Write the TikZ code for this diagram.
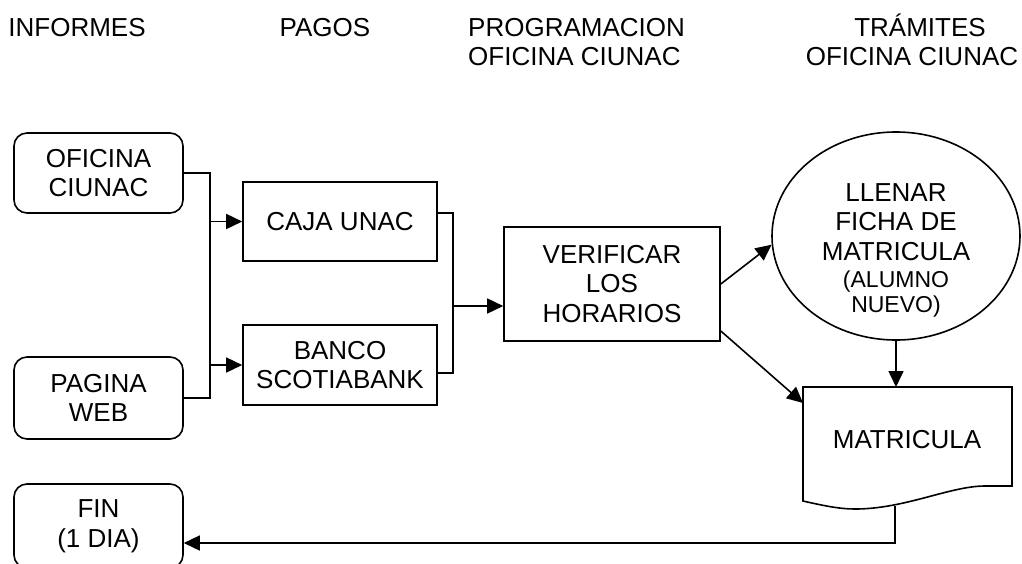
\documentclass[tikz,border=0pt]{standalone}
\usepackage{fontspec}
\setmainfont{Liberation Sans}
\usetikzlibrary{shapes.geometric,arrows.meta,calc}
\begin{document}
\begin{tikzpicture}[x=1pt,y=-1pt,
  every node/.style={font=\fontsize{26}{29.5}\selectfont},
  conn/.style={line width=1.6pt},
  arr/.style={line width=1.6pt,-{Triangle[length=16pt,width=15pt]}},
  rbox/.style={draw,line width=1.6pt,rounded corners=13pt,minimum width=169pt,inner sep=0pt,align=center},
  sbox/.style={draw,line width=1.6pt,inner sep=0pt,align=center},
  hdr/.style={inner sep=0pt,anchor=base}]
\fill[white] (0,0) rectangle (1022,563);
\useasboundingbox (0,0) rectangle (1022,563);
% headers
\node[hdr] (h1) at (77,36) {INFORMES};
\node[hdr] (h2) at (325,36) {PAGOS};
\node[hdr,anchor=base west] (h3a) at (468,36) {PROGRAMACION};
\node[hdr,anchor=base west] (h3b) at (468,65) {OFICINA CIUNAC};
\node[hdr] (h4a) at (920,36) {TRÁMITES};
\node[hdr] (h4b) at (912,65) {OFICINA CIUNAC};
% boxes
\node[rbox,minimum height=80pt] (ofi) at (98.5,173) {OFICINA\\CIUNAC};
\node[rbox,minimum height=82pt] (pag) at (98.5,398) {PAGINA\\WEB};
\node[rbox,minimum height=84pt] (fin) at (98.5,526) {FIN\\(1 DIA)};
\node[sbox,minimum width=194pt,minimum height=79pt] (caja) at (340,221.5) {CAJA UNAC};
\node[sbox,minimum width=194pt,minimum height=80pt] (banco) at (340,365) {BANCO\\SCOTIABANK};
\node[sbox,minimum width=216pt,minimum height=114pt] (verif) at (612,284) {VERIFICAR\\LOS\\HORARIOS};
\node[draw,ellipse,line width=1.6pt,minimum width=248pt,minimum height=208pt,inner sep=0pt] (ell) at (896,236) {};
\node[align=center,inner sep=0pt] (elltxt) at (896,250) {LLENAR\\FICHA DE\\MATRICULA\\[-2pt]{\fontsize{23}{24}\selectfont (ALUMNO}\\[-5pt]{\fontsize{23}{24}\selectfont NUEVO)}};
% document shape
\draw[conn] (803,387) -- (1012,387) -- (1012,486) -- (985,486)
  .. controls (950,486) and (905,509) .. (855,509)
  .. controls (840,509) and (825,506) .. (803,501) -- cycle;
\node[inner sep=0pt] (doc) at (907,440) {MATRICULA};
\coordinate (doctl) at (803,387);
\coordinate (docb) at (895,506);
\coordinate (fa) at (0,543);
% buses
\coordinate (lbus) at (210,0);
\coordinate (rbus) at (453,0);
\draw[conn] (ofi.east) -- (ofi.east -| lbus) -- (pag.east -| lbus) -- (pag.east);
\draw[arr] (caja.west -| lbus) -- (caja.west);
\draw[arr] (banco.west -| lbus) -- (banco.west);
\coordinate (cout) at ($(caja.east)+(0,-8.5)$);
\coordinate (bout) at ($(banco.east)+(0,8)$);
\coordinate (vin) at ($(verif.west)+(0,22)$);
\draw[conn] (cout) -- (cout -| rbus) -- (bout -| rbus) -- (bout);
\draw[arr] (vin -| rbus) -- (vin);
% right side
\draw[arr] (verif.east) -- (ell.184);
\draw[arr] ($(verif.east)+(0,47)$) -- ($(doctl)+(0,16)$);
\draw[arr] (ell.south) -- (ell.south |- doctl);
\draw[arr] (docb) |- (fin.east |- fa);
\end{tikzpicture}
\end{document}
